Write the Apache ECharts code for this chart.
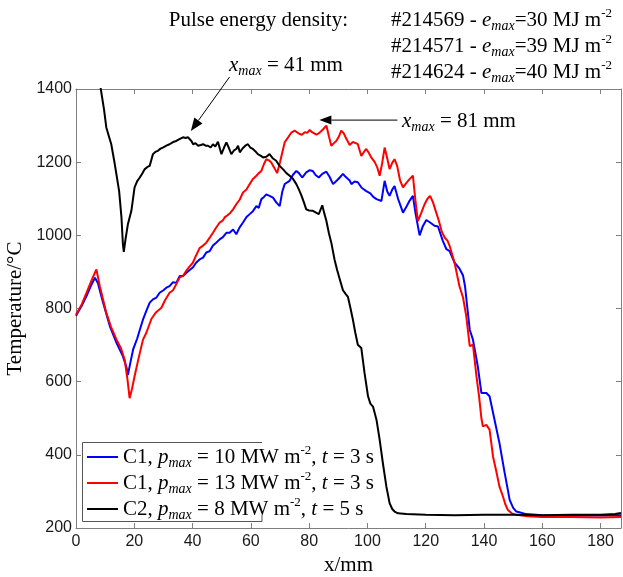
<!DOCTYPE html>
<html>
<head>
<meta charset="utf-8">
<script src="https://cdn.jsdelivr.net/npm/echarts@6/dist/echarts.min.js"></script>
<style>
  html, body { margin: 0; padding: 0; background: #fff; }
  #chart { width: 623px; height: 577px; }
</style>
</head>
<body>
<div id="chart"></div>
<script>
// Surface temperature profiles along x (mm) for three pulses
const seriesNames = [
  'C1, p_max = 10 MW m-2, t = 3 s',
  'C1, p_max = 13 MW m-2, t = 3 s',
  'C2, p_max = 8 MW m-2, t = 5 s'
];
const seriesColors = ['#0000ff', '#ff0000', '#000000'];

const blueX = [0, 2, 3.6, 5, 6.5, 7.5, 9.3, 11.6, 13.9, 16.1, 17.3, 17.8, 18.6, 19.6, 21, 21.9, 23, 24.2, 25.3, 26.4, 27.6, 28.7, 30, 31, 32.1, 33.3, 34.4, 35.6, 36.7, 37.9, 39, 40.1, 41.2, 42.4, 43.6, 44.7, 45.9, 47, 48.1, 49.3, 50.4, 51.6, 52.7, 53.9, 55, 56.1, 57.3, 58.5, 59.6, 60.7, 61.9, 62.7, 63.6, 64.5, 65.3, 66.4, 67.6, 68.7, 69.9, 70.8, 71.6, 72.5, 73.3, 74.4, 75.6, 76.5, 77.6, 79, 80.2, 81.2, 82.2, 83.3, 84.5, 85.9, 87, 88.2, 89.5, 90.5, 91.6, 92.5, 93.9, 94.5, 95.6, 96.7, 98, 99.6, 101, 102, 103.1, 104.8, 105.9, 106.8, 107.6, 108.5, 109.3, 110.5, 112.2, 113.5, 114.5, 115.6, 116.5, 117.9, 119, 120.2, 121.5, 123, 124.2, 125.9, 127.1, 128.2, 129.9, 131.5, 132.8, 133.5, 134.3, 135.1, 136.2, 137.9, 139.1, 140.8, 141.9, 143.6, 145.3, 147.1, 148.8, 150, 151.1, 154.5, 160, 170, 180, 187];
const blueY = [780, 808, 834, 860, 884, 870, 816, 752, 706, 669, 640, 618, 650, 688, 718, 742, 770, 795, 816, 825, 830, 843, 850, 857, 861, 872, 870, 889, 889, 898, 905, 912, 925, 934, 939, 953, 957, 972, 980, 989, 995, 1007, 1007, 1016, 1003, 1021, 1035, 1050, 1058, 1066, 1080, 1075, 1099, 1105, 1112, 1108, 1103, 1090, 1080, 1120, 1140, 1145, 1149, 1165, 1176, 1170, 1158, 1172, 1178, 1176, 1165, 1158, 1168, 1174, 1160, 1140, 1150, 1158, 1168, 1160, 1150, 1140, 1147, 1145, 1130, 1121, 1115, 1105, 1099, 1094, 1149, 1120, 1108, 1125, 1135, 1100, 1062, 1080, 1095, 1108, 1060, 1000, 1025, 1042, 1035, 1026, 1024, 984, 962, 957, 925, 910, 890, 860, 800, 742, 715, 640, 569, 569, 560, 496, 432, 350, 277, 255, 245, 238, 235, 234, 234, 235];

const redX = [0, 2, 3.6, 5.5, 7, 8.2, 10.4, 12, 13.9, 15.5, 16.7, 17.6, 18.4, 19.2, 20.1, 21.5, 23, 24.2, 25.9, 27.5, 29.3, 30.5, 32.1, 33.3, 34.5, 35.6, 36.7, 38, 39, 40.1, 41.2, 42.4, 43.6, 44.7, 46, 47, 48, 49.3, 50.3, 51, 52, 53, 53.9, 55, 56.2, 57.3, 58.5, 59.6, 60.7, 61.9, 62.7, 63.6, 64.5, 65.3, 66.2, 67, 68, 69, 70, 70.5, 71.6, 72.8, 73.9, 75, 75.6, 76.7, 77.5, 78.5, 79.3, 80.2, 81, 82.5, 83.5, 84.8, 85.9, 86.8, 87.6, 88.5, 89.3, 90.2, 91, 91.8, 92.5, 93.9, 95, 96, 96.7, 97.9, 98.8, 99.6, 100.5, 101.3, 102.5, 103.4, 104.2, 105, 105.9, 106.8, 107.6, 108.5, 109.3, 110.2, 111.2, 112.2, 113.5, 114.6, 115.6, 116.4, 117.3, 118.4, 119.6, 120.6, 121.5, 122.5, 123.6, 124.5, 125.5, 126.5, 127.5, 128.2, 129.9, 130.8, 131.6, 132.8, 133.9, 135.1, 136.2, 137.4, 138.3, 139.1, 139.6, 140.8, 141.9, 143.1, 144.2, 145.3, 146.5, 147.3, 148.2, 149.5, 151.1, 155, 160, 170, 180, 187];
const redY = [783, 812, 843, 880, 907, 860, 788, 750, 715, 690, 660, 610, 555, 580, 615, 665, 715, 735, 772, 790, 802, 822, 843, 850, 868, 885, 889, 905, 915, 925, 945, 965, 972, 980, 995, 1007, 1020, 1035, 1040, 1049, 1055, 1062, 1071, 1085, 1098, 1117, 1125, 1140, 1154, 1163, 1170, 1176, 1195, 1208, 1205, 1199, 1185, 1170, 1200, 1217, 1254, 1268, 1281, 1286, 1290, 1277, 1275, 1282, 1280, 1288, 1282, 1275, 1280, 1290, 1300, 1270, 1245, 1252, 1258, 1270, 1286, 1280, 1268, 1247, 1255, 1252, 1249, 1217, 1228, 1236, 1225, 1213, 1200, 1185, 1163, 1195, 1240, 1210, 1181, 1198, 1208, 1190, 1150, 1131, 1145, 1155, 1163, 1100, 1039, 1060, 1085, 1100, 1108, 1090, 1062, 1040, 1010, 994, 985, 971, 925, 890, 860, 830, 779, 697, 701, 615, 560, 500, 478, 482, 469, 395, 355, 313, 286, 265, 249, 240, 236, 232, 230, 230, 229, 230];

const blackX = [7.8, 8.4, 9.6, 10.4, 12.1, 13.3, 14.8, 15.6, 16.1, 16.4, 17, 17.8, 19, 20.1, 21, 21.9, 22.8, 23.6, 24.5, 25.3, 26.4, 27.2, 28.1, 29, 29.8, 31, 32.1, 33.3, 34.4, 35.5, 36.7, 37.6, 38.4, 39.6, 40.2, 41, 41.9, 42.8, 43.6, 44.5, 45.3, 46.2, 47, 47.8, 48.7, 49.9, 50.8, 51.6, 52.4, 53.3, 54.2, 55, 55.6, 56.2, 57.2, 58.1, 59, 59.8, 60.7, 61.5, 62.4, 63.3, 64.2, 65.3, 66.4, 67.6, 68.7, 69.8, 71, 72.2, 73.3, 74.4, 75.6, 76.5, 77.3, 78.2, 79, 80, 81.3, 82.2, 83.3, 84.5, 85.2, 85.9, 86.8, 87.6, 88.7, 89.6, 90.5, 91.6, 92.5, 93.3, 94.2, 95, 95.8, 96.7, 97.9, 99, 100.2, 101, 101.9, 103.1, 104.2, 105.3, 106.5, 107.6, 108.5, 109.3, 110.5, 113.3, 120, 130, 140, 150, 160, 170, 180, 185, 187];
const blackY = [1440, 1405, 1345, 1295, 1249, 1195, 1121, 1049, 975, 955, 990, 1030, 1067, 1131, 1148, 1158, 1170, 1181, 1187, 1190, 1222, 1228, 1231, 1237, 1240, 1245, 1249, 1255, 1258, 1263, 1268, 1266, 1268, 1258, 1249, 1252, 1245, 1247, 1249, 1245, 1245, 1240, 1249, 1243, 1256, 1222, 1240, 1254, 1240, 1222, 1232, 1236, 1245, 1227, 1238, 1245, 1249, 1240, 1236, 1230, 1222, 1218, 1213, 1215, 1222, 1210, 1204, 1190, 1181, 1170, 1163, 1155, 1140, 1125, 1110, 1090, 1071, 1068, 1067, 1063, 1058, 1082, 1060, 1040, 1005, 980, 934, 905, 880, 850, 840, 832, 800, 770, 735, 701, 692, 624, 560, 540, 532, 496, 441, 377, 313, 268, 252, 245, 240, 238, 236, 235, 236, 236, 235, 236, 236, 238, 241];

const xTicks = { min: 0, max: 187, interval: 20 };
const yTicks = { min: 200, max: 1400, interval: 200 };

function pairs(xs, ys) { return xs.map((x, i) => [x, ys[i]]); }

const SERIF = '"Liberation Serif", "Times New Roman", serif';
const SANS = '"Liberation Sans", Arial, sans-serif';

// rich text styles: normal, italic, subscript, superscript
function richSet(color) {
  return {
    n: { fontFamily: SERIF, fontSize: 21, lineHeight: 26, color: color },
    i: { fontFamily: SERIF, fontSize: 21, lineHeight: 26, fontStyle: 'italic', color: color },
    s: { fontFamily: SERIF, fontSize: 14, lineHeight: 14, fontStyle: 'italic', verticalAlign: 'bottom', color: color },
    p: { fontFamily: SERIF, fontSize: 13, lineHeight: 13, verticalAlign: 'top', color: color }
  };
}

const legendRich = {
  [seriesNames[0]]: '{n|C1, }{i|p}{s|max}{n| = 10 MW m}{p|-2}{n|, }{i|t}{n| = 3 s}',
  [seriesNames[1]]: '{n|C1, }{i|p}{s|max}{n| = 13 MW m}{p|-2}{n|, }{i|t}{n| = 3 s}',
  [seriesNames[2]]: '{n|C2, }{i|p}{s|max}{n| = 8 MW m}{p|-2}{n|, }{i|t}{n| = 5 s}'
};

const axisGray = '#7f7f7f';
function frameAxis(extra) {
  return Object.assign({
    type: 'value',
    axisLine: { show: true, onZero: false, lineStyle: { color: axisGray, width: 1 } },
    axisTick: { show: true, inside: true, length: 5, lineStyle: { color: axisGray } },
    splitLine: { show: false },
    axisLabel: { show: false }
  }, extra);
}

const chart = echarts.init(document.getElementById('chart'), null, { renderer: 'canvas' });

const option = {
  animation: false,
  backgroundColor: '#ffffff',
  grid: { left: 76, right: 2, top: 89, bottom: 49, containLabel: false, outerBoundsMode: 'none' },
  xAxis: [
    frameAxis(Object.assign({}, xTicks, {
      position: 'bottom',
      axisLabel: { show: true, color: '#1a1a1a', fontFamily: SANS, fontSize: 16, margin: 6, showMaxLabel: false },
      name: 'x/mm', nameLocation: 'middle', nameGap: 21,
      nameTextStyle: { fontFamily: SERIF, fontSize: 21, color: '#000' }
    })),
    frameAxis(Object.assign({}, xTicks, { position: 'top' }))
  ],
  yAxis: [
    frameAxis(Object.assign({}, yTicks, {
      position: 'left',
      axisLabel: { show: true, color: '#1a1a1a', fontFamily: SANS, fontSize: 16, margin: 4, formatter: v => String(v) },
      name: 'Temperature/°C', nameLocation: 'middle', nameGap: 46,
      nameTextStyle: { fontFamily: SERIF, fontSize: 21, color: '#000' }
    })),
    frameAxis(Object.assign({}, yTicks, { position: 'right' }))
  ],
  legend: {
    orient: 'vertical',
    left: 87, top: 444,
    padding: 0,
    icon: 'rect',
    itemWidth: 31, itemHeight: 2, itemGap: 0,
    selectedMode: false,
    data: seriesNames,
    formatter: name => legendRich[name],
    textStyle: { rich: richSet('#000') }
  },
  series: [
    { name: seriesNames[0], data: pairs(blueX, blueY) },
    { name: seriesNames[1], data: pairs(redX, redY) },
    { name: seriesNames[2], data: pairs(blackX, blackY) }
  ].map((s, k) => Object.assign({
    type: 'line',
    symbol: 'none',
    showSymbol: false,
    clip: true,
    lineStyle: { width: 2, color: seriesColors[k] },
    itemStyle: { color: seriesColors[k] },
    z: 2 + k
  }, s))
};
chart.setOption(option);

// annotation arrows anchored to data coordinates
function px(pt) { return chart.convertToPixel({ xAxisIndex: 0, yAxisIndex: 0 }, pt); }
function arrow(tail, tip, head, w) {
  const a = px(tail), b = px(tip);
  const dx = b[0] - a[0], dy = b[1] - a[1];
  const len = Math.sqrt(dx * dx + dy * dy);
  const ux = dx / len, uy = dy / len;
  const bx = b[0] - ux * head, by = b[1] - uy * head;
  return [
    { type: 'line', shape: { x1: a[0], y1: a[1], x2: bx, y2: by }, style: { stroke: '#000', lineWidth: 1 }, z: 10 },
    { type: 'polygon', shape: { points: [[b[0], b[1]], [bx - uy * w / 2, by + ux * w / 2], [bx + uy * w / 2, by - ux * w / 2]] }, style: { fill: '#000' }, z: 10 }
  ];
}

const peakC2 = [39.4, 1285];
const peakC1 = [83.5, 1315];

const graphics = [
  // legend frame
  { type: 'polyline', shape: { points: [[262, 442.5], [82.5, 442.5], [82.5, 521.5], [262, 521.5], [262, 515]] },
    style: { stroke: '#555', lineWidth: 1, fill: null }, z: 1 },
  { type: 'text', x: 348, y: 20, style: { text: 'Pulse energy density:', font: '21px ' + SERIF, fill: '#000', align: 'right', verticalAlign: 'middle' } },
  { type: 'text', x: 391, y: 20, style: { text: '{n|#214569 - }{i|e}{s|max}{n|=30 MJ m}{p|-2}', rich: richSet('#0000ff'), align: 'left', verticalAlign: 'middle' } },
  { type: 'text', x: 391, y: 46, style: { text: '{n|#214571 - }{i|e}{s|max}{n|=39 MJ m}{p|-2}', rich: richSet('#ff0000'), align: 'left', verticalAlign: 'middle' } },
  { type: 'text', x: 391, y: 72, style: { text: '{n|#214624 - }{i|e}{s|max}{n|=40 MJ m}{p|-2}', rich: richSet('#000000'), align: 'left', verticalAlign: 'middle' } },
  { type: 'text', x: 229, y: 65, style: { text: '{i|x}{s|max}{n| = 41 mm}', rich: richSet('#000'), align: 'left', verticalAlign: 'middle' } },
  { type: 'text', x: 402, y: 121, style: { text: '{i|x}{s|max}{n| = 81 mm}', rich: richSet('#000'), align: 'left', verticalAlign: 'middle' } }
].concat(
  arrow([52.7, 1433], peakC2, 13, 10),
  arrow([110.3, peakC1[1]], peakC1, 12, 9)
);
chart.setOption({ graphic: graphics });
</script>
</body>
</html>
